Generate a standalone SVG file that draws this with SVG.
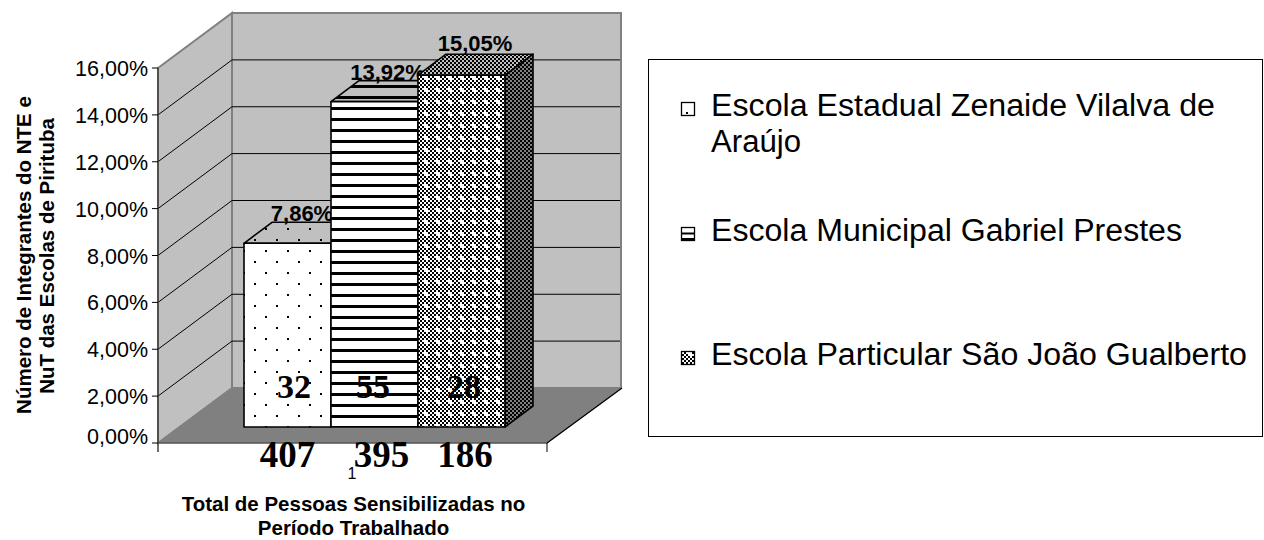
<svg xmlns="http://www.w3.org/2000/svg" width="1264" height="540" viewBox="0 0 1264 540">
<style>
.wall{fill:#c0c0c0;stroke:#808080;stroke-width:2}
.grid{stroke:#000;stroke-width:1;fill:none}
.bar{stroke:#000;stroke-width:1.6;stroke-linejoin:round}
.tick{font-family:"Liberation Sans",Arial,sans-serif;font-size:21.5px;fill:#000;text-anchor:end}
.dl{font-family:"Liberation Sans",Arial,sans-serif;font-size:22px;font-weight:bold;fill:#000;text-anchor:middle}
.num{font-family:"Liberation Serif","Times New Roman",serif;font-weight:bold;fill:#000;text-anchor:middle}
.ttl{font-family:"Liberation Sans",Arial,sans-serif;font-size:20.5px;font-weight:bold;fill:#000;text-anchor:middle}
.leg{font-family:"Liberation Sans",Arial,sans-serif;font-size:31px;fill:#000}
</style>
<defs>
<pattern id="dots" x="254" y="261" width="22" height="22" patternUnits="userSpaceOnUse"><rect width="22" height="22" fill="#fff"/><rect x="0" y="0" width="2" height="2" fill="#000"/><rect x="11" y="11" width="2" height="2" fill="#000"/></pattern>
<pattern id="dotsTop" x="254" y="261" width="22" height="22" patternUnits="userSpaceOnUse"><rect width="22" height="22" fill="#c0c0c0"/><rect x="0" y="0" width="2" height="2" fill="#000"/><rect x="11" y="11" width="2" height="2" fill="#000"/></pattern>
<pattern id="stripes" x="0" y="184" width="11" height="11" patternUnits="userSpaceOnUse"><rect width="11" height="11" fill="#fff"/><rect width="11" height="3" fill="#000"/></pattern>
<pattern id="stripesTop" x="0" y="184" width="11" height="11" patternUnits="userSpaceOnUse"><rect width="11" height="11" fill="#c0c0c0"/><rect width="11" height="3" fill="#000"/></pattern>
<pattern id="chk" x="0" y="0" width="12" height="12" patternUnits="userSpaceOnUse"><rect width="12" height="12" fill="#fff"/><path d="M0 0h2v2H0zM4 0h2v2H4zM8 0h2v2H8zM2 2h2v2H2zM6 2h2v2H6zM10 2h2v2h-2zM0 4h2v2H0zM8 4h2v2H8zM2 6h2v2H2zM10 6h2v2h-2zM0 8h2v2H0zM4 8h2v2H4zM8 8h2v2H8zM2 10h2v2H2zM6 10h2v2H6zM10 10h2v2h-2z" fill="#000"/></pattern>
<pattern id="chkTop" x="0" y="0" width="4" height="4" patternUnits="userSpaceOnUse"><rect width="4" height="4" fill="#c0c0c0"/><rect width="2" height="2" fill="#000"/><rect x="2" y="2" width="2" height="2" fill="#000"/></pattern>
<pattern id="chkSide" x="0" y="0" width="4" height="4" patternUnits="userSpaceOnUse"><rect width="4" height="4" fill="#808080"/><rect width="2" height="2" fill="#000"/><rect x="2" y="2" width="2" height="2" fill="#000"/></pattern>
</defs>
<rect width="1264" height="540" fill="#fff"/>

<g id="plot-area">
<rect class="wall" x="232" y="13" width="389" height="375"/>
<polygon class="wall" points="158,68 232,13 232,388 158,443"/>
<polygon points="158,443 232,388 622,388 547,443" fill="#808080" stroke="#808080" stroke-width="1"/>
<g id="gridlines">
<line class="grid" x1="232" y1="341.1" x2="620" y2="341.1"/>
<line class="grid" x1="232" y1="294.25" x2="620" y2="294.25"/>
<line class="grid" x1="232" y1="247.4" x2="620" y2="247.4"/>
<line class="grid" x1="232" y1="200.5" x2="620" y2="200.5"/>
<line class="grid" x1="232" y1="153.6" x2="620" y2="153.6"/>
<line class="grid" x1="232" y1="106.75" x2="620" y2="106.75"/>
<line class="grid" x1="232" y1="59.9" x2="620" y2="59.9"/>
<line class="grid" x1="158" y1="396.1" x2="232" y2="341.1"/>
<line class="grid" x1="158" y1="349.25" x2="232" y2="294.25"/>
<line class="grid" x1="158" y1="302.4" x2="232" y2="247.4"/>
<line class="grid" x1="158" y1="255.5" x2="232" y2="200.5"/>
<line class="grid" x1="158" y1="208.6" x2="232" y2="153.6"/>
<line class="grid" x1="158" y1="161.75" x2="232" y2="106.75"/>
<line class="grid" x1="158" y1="114.9" x2="232" y2="59.9"/>
</g>
<line x1="548" y1="444" x2="623" y2="389" stroke="#fff" stroke-width="1"/>
<line x1="547" y1="443" x2="622" y2="388" stroke="#000" stroke-width="1.2"/>
<line x1="158" y1="443" x2="547" y2="443" stroke="#404040" stroke-width="1"/>
</g>

<g id="axes">
<line x1="158" y1="68" x2="158" y2="452" stroke="#404040" stroke-width="1.5"/>
<g stroke="#000" stroke-width="1">
<line x1="152" y1="443" x2="158" y2="443"/>
<line x1="152" y1="396.1" x2="158" y2="396.1"/>
<line x1="152" y1="349.25" x2="158" y2="349.25"/>
<line x1="152" y1="302.4" x2="158" y2="302.4"/>
<line x1="152" y1="255.5" x2="158" y2="255.5"/>
<line x1="152" y1="208.6" x2="158" y2="208.6"/>
<line x1="152" y1="161.75" x2="158" y2="161.75"/>
<line x1="152" y1="114.9" x2="158" y2="114.9"/>
<line x1="152" y1="68" x2="158" y2="68"/>
<line x1="547" y1="443" x2="547" y2="452"/>
</g>
<text class="tick" x="148" y="444">0,00%</text>
<text class="tick" x="148" y="404">2,00%</text>
<text class="tick" x="148" y="357">4,00%</text>
<text class="tick" x="148" y="310">6,00%</text>
<text class="tick" x="148" y="263.5">8,00%</text>
<text class="tick" x="148" y="216.6">10,00%</text>
<text class="tick" x="148" y="169.75">12,00%</text>
<text class="tick" x="148" y="122.9">14,00%</text>
<text class="tick" x="148" y="76">16,00%</text>
</g>

<g id="bar-estadual">
<polygon class="bar" points="244,243.3 272,222.3 359,222.3 331,243.3" fill="url(#dotsTop)"/>
<rect class="bar" x="244" y="243.3" width="87" height="183.7" fill="url(#dots)"/>
<text class="dl" x="302" y="221">7,86%</text>
</g>
<g id="bar-municipal">
<polygon class="bar" points="331,101.6 359,80.6 446,80.6 418,101.6" fill="url(#stripesTop)"/>
<rect class="bar" x="331" y="101.6" width="87" height="325.4" fill="url(#stripes)"/>
<text class="dl" x="387.5" y="80">13,92%</text>
</g>
<g id="bar-particular">
<polygon class="bar" points="418,75.2 446,54.2 533,54.2 505,75.2" fill="url(#chkTop)"/>
<polygon class="bar" points="505,75.2 533,54.2 533,406 505,427" fill="url(#chkSide)"/>
<rect class="bar" x="418" y="75.2" width="87" height="351.8" fill="url(#chk)"/>
<text class="dl" x="475" y="51">15,05%</text>
</g>

<g id="bar-values">
<text class="num" x="294" y="398" font-size="34">32</text>
<text class="num" x="373" y="398" font-size="34">55</text>
<text class="num" x="464" y="398" font-size="34">28</text>
</g>

<g id="category-labels">
<text class="num" x="287.5" y="467" font-size="37">407</text>
<text class="num" x="381.5" y="467" font-size="37">395</text>
<text class="num" x="465" y="467" font-size="37">186</text>
<text x="352" y="479" font-family="Liberation Sans, Arial, sans-serif" font-size="16" text-anchor="middle">1</text>
</g>

<g id="axis-titles">
<text class="ttl" x="353.5" y="511">Total de Pessoas Sensibilizadas no</text>
<text class="ttl" x="353.5" y="535">Período Trabalhado</text>
<text class="ttl" transform="rotate(-90 31 255)" x="31" y="255">Número de Integrantes do NTE e</text>
<text class="ttl" transform="rotate(-90 54 256)" x="54" y="256">NuT das Escolas de Pirituba</text>
</g>

<g id="legend">
<rect x="648.5" y="59.5" width="614" height="377" fill="#fff" stroke="#000" stroke-width="1"/>
<g id="legend-estadual">
<rect x="681.5" y="102.5" width="13" height="13" fill="#fff" stroke="#000" stroke-width="1.3"/>
<rect x="686" y="112" width="2" height="2" fill="#000"/>
<text class="leg" x="711" y="116" textLength="504" lengthAdjust="spacingAndGlyphs">Escola Estadual Zenaide Vilalva de</text>
<text class="leg" x="711" y="152" textLength="90" lengthAdjust="spacingAndGlyphs">Araújo</text>
</g>
<g id="legend-municipal">
<rect x="681.5" y="227.5" width="13" height="13" fill="#fff" stroke="#000" stroke-width="1.3"/>
<rect x="681.5" y="232.5" width="13" height="2" fill="#000"/>
<rect x="681.5" y="238" width="13" height="2.5" fill="#000"/>
<text class="leg" x="711" y="241" textLength="471" lengthAdjust="spacingAndGlyphs">Escola Municipal Gabriel Prestes</text>
</g>
<g id="legend-particular">
<rect x="681.5" y="351.5" width="13" height="13" fill="url(#chk)" stroke="#000" stroke-width="1.3"/>
<text class="leg" x="711" y="365" textLength="536" lengthAdjust="spacingAndGlyphs">Escola Particular São João Gualberto</text>
</g>
</g>
</svg>
